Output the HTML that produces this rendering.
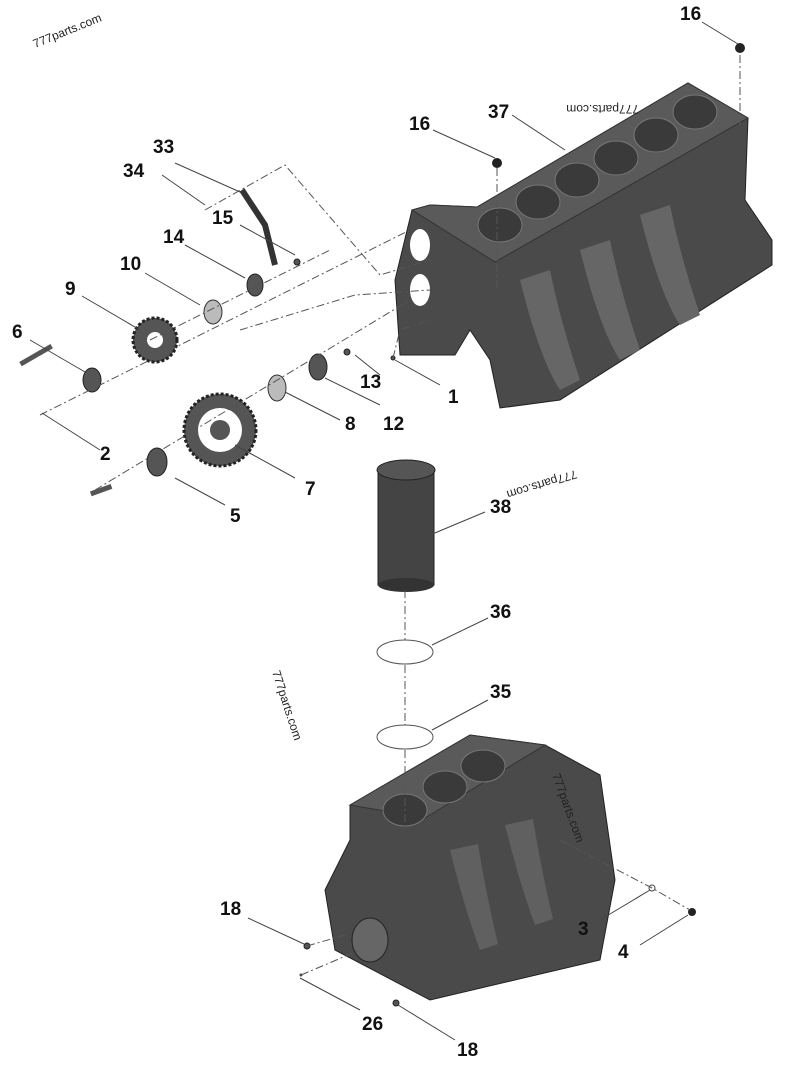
<!DOCTYPE html>
<html><head><style>
body{margin:0;background:#fff;}
svg{display:block}
text{font-family:"Liberation Sans",sans-serif;}
.n{font-size:19px;font-weight:bold;fill:#111}
.w{font-size:12px;fill:#222}
.l{stroke:#444;stroke-width:1;fill:none}
.d{stroke:#555;stroke-width:1;fill:none;stroke-dasharray:8,3,2,3}
.p{fill:#555;stroke:#222;stroke-width:1}
</style></head><body>
<svg width="800" height="1067" viewBox="0 0 800 1067">
<!-- top block -->
<polygon points="412,210 430,205 477,207 688,83 748,118 745,200 772,240 772,265 560,400 500,408 490,360 470,330 455,355 400,355 395,280" fill="#4a4a4a" stroke="#222"/>
<polygon points="412,210 430,205 477,207 688,83 748,118 495,262" fill="#5a5a5a" stroke="#333"/>
<g fill="#3a3a3a" stroke="#777">
<ellipse cx="500" cy="225" rx="22" ry="17"/><ellipse cx="538" cy="202" rx="22" ry="17"/><ellipse cx="577" cy="180" rx="22" ry="17"/><ellipse cx="616" cy="158" rx="22" ry="17"/><ellipse cx="656" cy="135" rx="22" ry="17"/><ellipse cx="695" cy="112" rx="22" ry="17"/>
</g>
<g fill="#666"><path d="M520 280 q20 80 40 110 l20 -10 q-20 -60 -30 -110z"/><path d="M580 250 q20 80 40 110 l20 -10 q-20 -60 -30 -110z"/><path d="M640 215 q20 80 40 110 l20 -10 q-20 -60 -30 -110z"/></g>
<ellipse cx="420" cy="245" rx="10" ry="16" fill="#fff"/><ellipse cx="420" cy="290" rx="10" ry="16" fill="#fff"/>
<!-- bottom block -->
<polygon points="350,805 470,735 545,745 600,775 615,880 600,960 430,1000 335,950 325,890 350,840" fill="#4a4a4a" stroke="#222"/>
<polygon points="350,805 470,735 545,745 425,818" fill="#5a5a5a" stroke="#333"/>
<g fill="#3a3a3a" stroke="#777"><ellipse cx="405" cy="810" rx="22" ry="16"/><ellipse cx="445" cy="787" rx="22" ry="16"/><ellipse cx="483" cy="766" rx="22" ry="16"/></g>
<g fill="#606060"><path d="M450 850 q15 60 30 100 l18 -6 q-12 -50 -20 -100z"/><path d="M505 825 q15 60 30 100 l18 -6 q-12 -50 -20 -100z"/></g>
<ellipse cx="370" cy="940" rx="18" ry="22" fill="#666" stroke="#222"/>
<!-- cylinder liner 38 -->
<rect x="378" y="470" width="56" height="115" fill="#444" stroke="#222"/>
<ellipse cx="406" cy="470" rx="29" ry="10" fill="#555" stroke="#222"/>
<ellipse cx="406" cy="585" rx="28" ry="7" fill="#333"/>
<!-- O rings -->
<ellipse cx="405" cy="652" rx="28" ry="12" fill="none" stroke="#555"/>
<ellipse cx="405" cy="737" rx="28" ry="12" fill="none" stroke="#555"/>
<!-- gears -->
<circle cx="155" cy="340" r="22" fill="#555" stroke="#222" stroke-width="3" stroke-dasharray="3,2"/><circle cx="155" cy="340" r="8" fill="#fff"/>
<circle cx="220" cy="430" r="36" fill="#555" stroke="#222" stroke-width="3" stroke-dasharray="3,2"/><circle cx="220" cy="430" r="22" fill="#fff"/><circle cx="220" cy="430" r="10" fill="#555"/>
<ellipse cx="92" cy="380" rx="9" ry="12" class="p"/>
<ellipse cx="157" cy="462" rx="10" ry="14" class="p"/>
<ellipse cx="213" cy="312" rx="9" ry="12" fill="#bbb" stroke="#333"/>
<ellipse cx="277" cy="388" rx="9" ry="13" fill="#bbb" stroke="#333"/>
<ellipse cx="255" cy="285" rx="8" ry="11" class="p"/>
<ellipse cx="318" cy="367" rx="9" ry="13" class="p"/>
<path d="M242 190 L265 225 L275 265" stroke="#333" stroke-width="6" fill="none"/>
<circle cx="297" cy="262" r="3" class="p"/><circle cx="347" cy="352" r="3" class="p"/><circle cx="393" cy="358" r="2" class="p"/>
<circle cx="497" cy="163" r="5" fill="#222"/><circle cx="740" cy="48" r="5" fill="#222"/>
<circle cx="692" cy="912" r="4" fill="#222"/><circle cx="652" cy="888" r="3" fill="none" stroke="#444"/>
<circle cx="307" cy="946" r="3" class="p"/><circle cx="396" cy="1003" r="3" class="p"/><circle cx="301" cy="975" r="1.5" fill="#444"/>
<rect x="38" y="328" width="36" height="5" fill="#555" transform="rotate(-30 92 380)"/>
<rect x="90" y="488" width="22" height="5" fill="#555" transform="rotate(-20 100 490)"/>
<!-- dash-dot lines -->
<path class="d" d="M40 415 L410 230"/>
<path class="d" d="M95 490 L410 300"/>
<path class="d" d="M150 340 L330 250"/>
<path class="d" d="M205 210 L285 165 L380 275 L430 260"/>
<path class="d" d="M240 330 L355 295 L430 290"/>
<path class="d" d="M497 168 V290"/><path class="d" d="M740 55 V125"/>
<path class="d" d="M405 590 V640"/><path class="d" d="M405 665 V725"/><path class="d" d="M405 750 V830"/>
<path class="d" d="M560 840 L652 888 L690 910"/>
<path class="d" d="M301 975 L360 950"/><path class="d" d="M307 946 L345 935"/>
<path class="d" d="M393 358 L400 330 L430 320"/>
<!-- leader lines -->
<g class="l">
<path d="M30 340 L85 372"/><path d="M42 413 L100 450"/><path d="M82 296 L140 330"/><path d="M145 273 L200 305"/>
<path d="M185 245 L245 278"/><path d="M175 163 L240 192"/><path d="M162 175 L205 205"/><path d="M240 225 L295 255"/>
<path d="M175 478 L225 505"/><path d="M235 445 L295 478"/><path d="M285 392 L340 420"/><path d="M325 378 L380 405"/>
<path d="M355 355 L380 375"/><path d="M395 360 L440 385"/><path d="M433 130 L495 158"/><path d="M512 115 L565 150"/>
<path d="M702 22 L738 44"/><path d="M430 535 L485 512"/><path d="M432 645 L488 618"/><path d="M432 730 L488 700"/>
<path d="M248 918 L304 944"/><path d="M600 920 L650 890"/><path d="M640 945 L688 915"/><path d="M300 978 L360 1010"/><path d="M398 1005 L455 1040"/>
</g>
<!-- labels -->
<g class="n">
<text x="12" y="338">6</text><text x="100" y="460">2</text><text x="65" y="295">9</text><text x="120" y="270">10</text>
<text x="163" y="243">14</text><text x="153" y="153">33</text><text x="123" y="177">34</text><text x="212" y="224">15</text>
<text x="230" y="522">5</text><text x="305" y="495">7</text><text x="345" y="430">8</text><text x="383" y="430">12</text>
<text x="360" y="388">13</text><text x="448" y="403">1</text><text x="409" y="130">16</text><text x="488" y="118">37</text>
<text x="680" y="20">16</text><text x="490" y="513">38</text><text x="490" y="618">36</text><text x="490" y="698">35</text>
<text x="220" y="915">18</text><text x="578" y="935">3</text><text x="618" y="958">4</text><text x="362" y="1030">26</text><text x="457" y="1056">18</text>
</g>
<g class="w">
<text x="35" y="48" transform="rotate(-22 35 48)">777parts.com</text>
<text x="555" y="97" transform="rotate(180 597 101)">777parts.com</text>
<text x="622" y="487" transform="rotate(163 600 475)">777parts.com</text>
<text x="272" y="672" transform="rotate(72 272 672)">777parts.com</text>
<text x="552" y="775" transform="rotate(70 552 775)">777parts.com</text>
</g>
</svg>
</body></html>
